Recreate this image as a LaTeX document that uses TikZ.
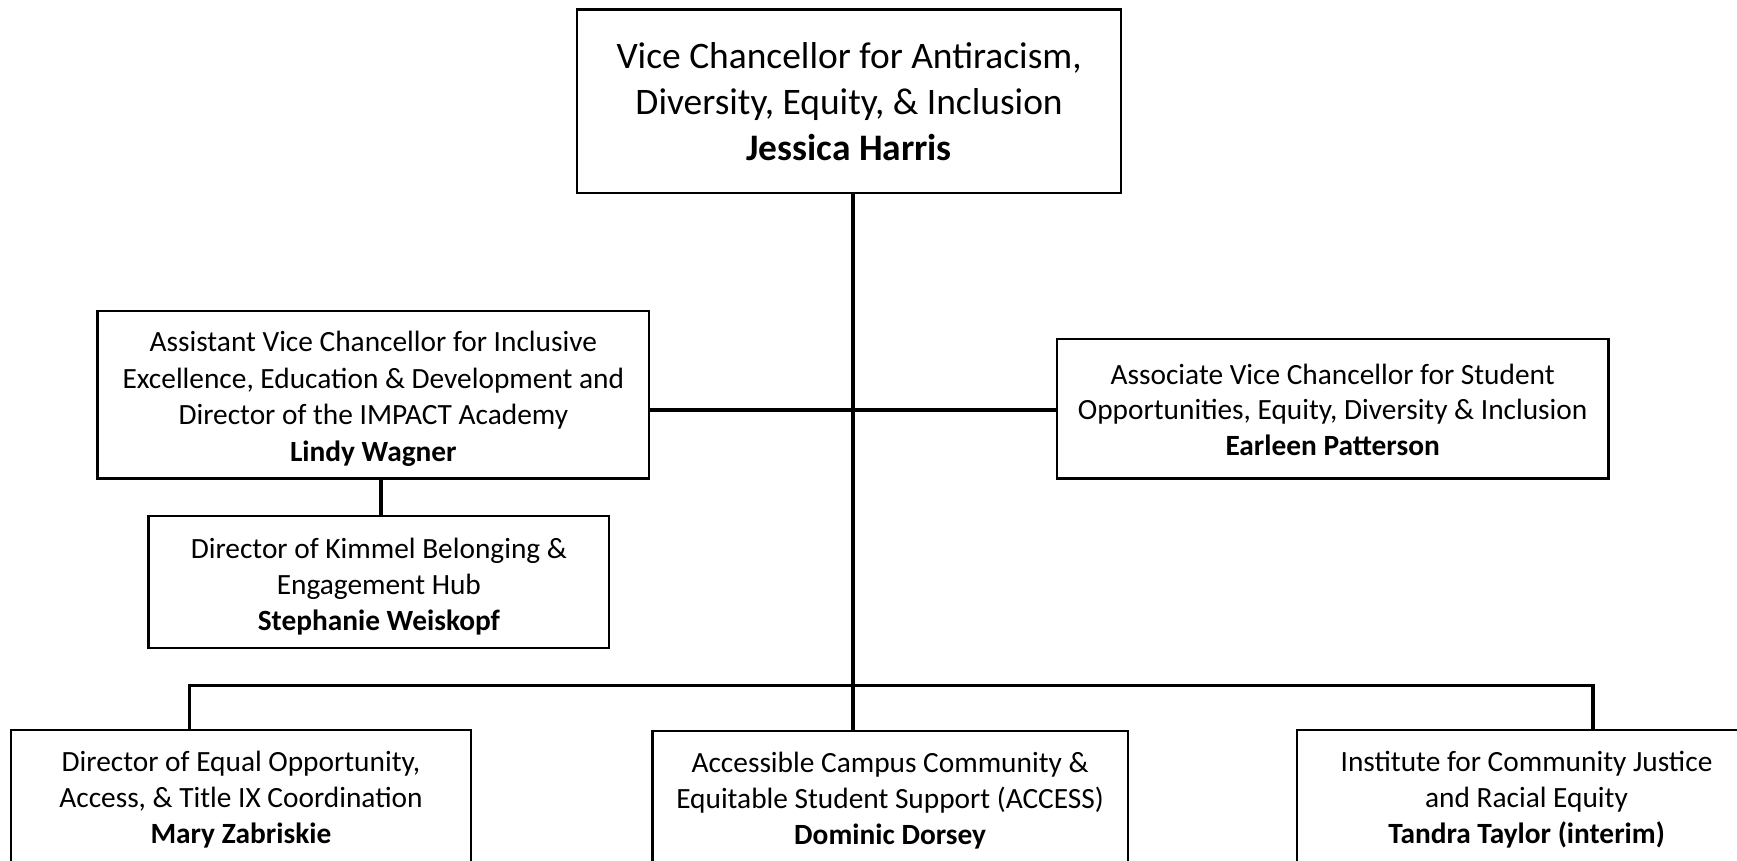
\documentclass[tikz,border=0pt]{standalone}
\usepackage{fontspec}
\setmainfont{Carlito}
\newcommand\lowtext[2]{\raisebox{-#1}[\height][\depth]{\begin{tabular}{@{}c@{}}#2\end{tabular}}}
\tikzset{
  orgbox/.style={draw=black, line width=1pt, fill=white, align=center, inner sep=0pt,
    font=\fontsize{13.25}{16.2}\selectfont},
  topbox/.style={orgbox, font=\fontsize{16.9}{20.8}\selectfont},
  link/.style={draw=black, line width=1.5pt}
}
\begin{document}
\begin{tikzpicture}[x=0.5pt,y=-0.5pt]
\useasboundingbox (0,0) rectangle (1568,777);
\clip (0,0) rectangle (1568,777);
\fill[white] (0,0) rectangle (1568,777);
% junction coordinates
\coordinate (m) at (770,370);
\coordinate (j) at (770,619);
\coordinate (d1) at (171,619);
\coordinate (d3) at (1438,619);
% nodes
\node[topbox, minimum width=245.5pt, minimum height=83pt] (vc) at (766.5,91.5)
  {Vice Chancellor for Antiracism,\\Diversity, Equity, \& Inclusion\\\textbf{Jessica Harris}};
\node[orgbox, font=\fontsize{13.25}{16.5}\selectfont, minimum width=249pt, minimum height=75.5pt] (avc) at (337,356.5)
  {\lowtext{2pt}{Assistant Vice Chancellor for Inclusive\\Excellence, Education \& Development and\\Director of the IMPACT Academy\\\textbf{Lindy Wagner}}};
\node[orgbox, minimum width=249pt, minimum height=63pt] (assoc) at (1203,369)
  {\lowtext{1.8pt}{Associate Vice Chancellor for Student\\Opportunities, Equity, Diversity \& Inclusion\\\textbf{Earleen Patterson}}};
\node[orgbox, minimum width=208pt, minimum height=59.5pt] (kim) at (342,525.5)
  {\lowtext{2.2pt}{Director of Kimmel Belonging \&\\Engagement Hub\\\textbf{Stephanie Weiskopf}}};
\node[orgbox, minimum width=207.5pt, minimum height=63pt] (eo) at (217.5,722)
  {Director of Equal Opportunity,\\Access, \& Title IX Coordination\\\textbf{Mary Zabriskie}};
\node[orgbox, minimum width=214.5pt, minimum height=62.5pt] (acc) at (803.5,722.5)
  {Accessible Campus Community \&\\Equitable Student Support (ACCESS)\\\textbf{Dominic Dorsey}};
\node[orgbox, minimum width=207pt, minimum height=63pt] (icj) at (1378,722)
  {Institute for Community Justice\\and Racial Equity\\\textbf{Tandra Taylor (interim)}};
% connectors
\draw[link] (vc.south -| j) -- (j);
\draw[link] (avc.east |- m) -- (assoc.west |- m);
\draw[link] (kim.north -| 344,0) -- (avc.south -| 344,0);
\draw[link] (d1 |- eo.north) -- (d1) -- (d3) -- (d3 |- icj.north);
\draw[link] (j) -- (j |- acc.north);
\end{tikzpicture}
\end{document}
